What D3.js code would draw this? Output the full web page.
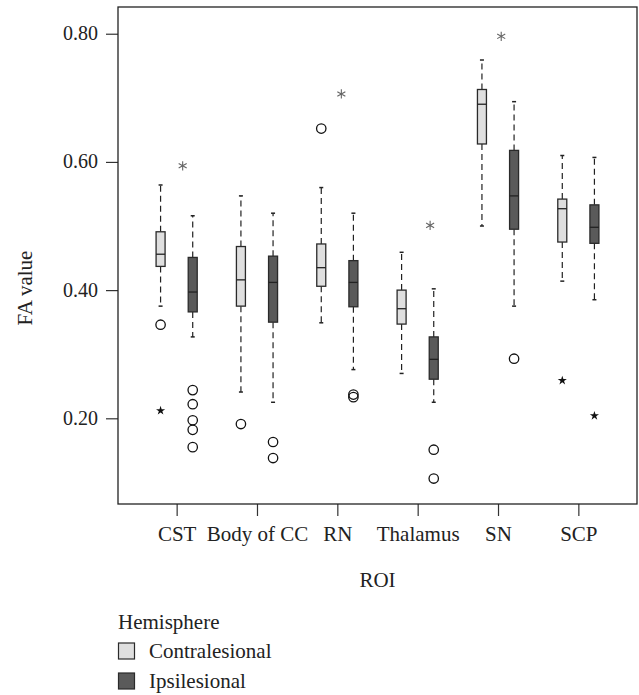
<!DOCTYPE html>
<html>
<head>
<meta charset="utf-8">
<script src="https://cdn.jsdelivr.net/npm/d3@7"></script>
<style>
  body { margin: 0; background: #fff; }
  svg { display: block; font-family: "Liberation Serif", "DejaVu Serif", serif; }
</style>
</head>
<body>
<svg id="chart" width="639" height="695"></svg>
<script>
// ROI categories and hemisphere groups
const rois = ["CST", "Body of CC", "RN", "Thalamus", "SN", "SCP"];
const hemispheres = ["Contralesional", "Ipsilesional"];
const yTicks = [0.2, 0.4, 0.6, 0.8];

// box stats per ROI, contralesional
const contraLow    = [0.375, 0.241, 0.349, 0.270, 0.500, 0.414];
const contraQ1     = [0.437, 0.375, 0.406, 0.347, 0.628, 0.475];
const contraMedian = [0.456, 0.416, 0.435, 0.371, 0.690, 0.527];
const contraQ3     = [0.491, 0.468, 0.472, 0.400, 0.713, 0.542];
const contraHigh   = [0.564, 0.547, 0.560, 0.459, 0.759, 0.610];
const contraOutliers = [[0.346], [0.191], [0.652], [], [], []];
const contraExtremes = [[0.212], [], [], [], [], [0.259]];

// box stats per ROI, ipsilesional
const ipsiLow    = [0.327, 0.225, 0.276, 0.225, 0.375, 0.385];
const ipsiQ1     = [0.366, 0.350, 0.374, 0.261, 0.495, 0.473];
const ipsiMedian = [0.397, 0.412, 0.412, 0.292, 0.547, 0.498];
const ipsiQ3     = [0.451, 0.453, 0.446, 0.327, 0.618, 0.533];
const ipsiHigh   = [0.516, 0.520, 0.520, 0.402, 0.694, 0.607];
const ipsiOutliers = [[0.244, 0.222, 0.197, 0.182, 0.155], [0.163, 0.138], [0.237, 0.233], [0.151, 0.106], [0.293], []];
const ipsiExtremes = [[], [], [], [], [], [0.204]];

// significance asterisks: ROI, height, sideways shift (fraction of band step)
const sigRois   = ["CST", "RN", "Thalamus", "SN"];
const sigValues = [0.594, 0.706, 0.501, 0.796];
const sigShift  = [0.075, 0.05, 0.155, 0.04];

const fills = ["#dfdfdf", "#5a5a5a"];

const svg = d3.select("#chart");
const plot = { left: 118, right: 637, top: 7, bottom: 504 };

const x = d3.scalePoint().domain(rois).range([plot.left, plot.right]).padding(0.73);
const xSub = d3.scaleBand().domain(hemispheres).range([-x.step() * 0.4, x.step() * 0.4]);
const y = d3.scaleLinear().domain([0.0663, 0.8417]).range([plot.bottom, plot.top]);

const series = [
  { name: hemispheres[0], low: contraLow, q1: contraQ1, med: contraMedian, q3: contraQ3, high: contraHigh, out: contraOutliers, ext: contraExtremes },
  { name: hemispheres[1], low: ipsiLow, q1: ipsiQ1, med: ipsiMedian, q3: ipsiQ3, high: ipsiHigh, out: ipsiOutliers, ext: ipsiExtremes }
];

const boxes = [];
series.forEach((s, si) => {
  rois.forEach((r, i) => {
    boxes.push({
      roi: r, hemi: s.name, fill: fills[si],
      low: s.low[i], q1: s.q1[i], med: s.med[i], q3: s.q3[i], high: s.high[i],
      out: s.out[i], ext: s.ext[i]
    });
  });
});

const cx = d => x(d.roi) + xSub(d.hemi) + xSub.bandwidth() / 2;
const boxW = 9, capW = 4;

// y axis
const yAxis = svg.append("g")
  .attr("transform", `translate(${plot.left},0)`)
  .call(d3.axisLeft(y).tickValues(yTicks).tickFormat(d3.format(".2f")).tickSize(12).tickPadding(8));
yAxis.select(".domain").remove();
yAxis.selectAll("line").attr("stroke", "#333").attr("stroke-width", 1.2);
yAxis.selectAll("text").attr("font-size", 20).attr("font-family", "Liberation Serif").attr("fill", "#222").attr("dy", "0.3em");

// x axis
const xAxis = svg.append("g")
  .attr("transform", `translate(0,${plot.bottom})`)
  .call(d3.axisBottom(x).tickSize(12).tickPadding(11));
xAxis.select(".domain").remove();
xAxis.selectAll("line").attr("stroke", "#333").attr("stroke-width", 1.2);
xAxis.selectAll("text").attr("font-size", 21).attr("font-family", "Liberation Serif").attr("fill", "#222").attr("dy", "0.68em");

// frame
svg.append("rect")
  .attr("x", plot.left).attr("y", plot.top)
  .attr("width", plot.right - plot.left).attr("height", plot.bottom - plot.top)
  .attr("fill", "none").attr("stroke", "#222").attr("stroke-width", 1.3);

const g = svg.append("g");

// whiskers
g.selectAll("line.wlo").data(boxes).join("line")
  .attr("x1", cx).attr("x2", cx)
  .attr("y1", d => y(d.q1)).attr("y2", d => y(d.low))
  .attr("stroke", "#222").attr("stroke-width", 1.2).attr("stroke-dasharray", "6,4");
g.selectAll("line.whi").data(boxes).join("line")
  .attr("x1", cx).attr("x2", cx)
  .attr("y1", d => y(d.q3)).attr("y2", d => y(d.high))
  .attr("stroke", "#222").attr("stroke-width", 1.2).attr("stroke-dasharray", "6,4");
["low", "high"].forEach(k => {
  g.selectAll("line.cap-" + k).data(boxes).join("line")
    .attr("x1", d => cx(d) - capW / 2).attr("x2", d => cx(d) + capW / 2)
    .attr("y1", d => y(d[k])).attr("y2", d => y(d[k]))
    .attr("stroke", "#222").attr("stroke-width", 1.5);
});

// boxes
g.selectAll("rect.box").data(boxes).join("rect")
  .attr("x", d => cx(d) - boxW / 2).attr("width", boxW)
  .attr("y", d => y(d.q3)).attr("height", d => y(d.q1) - y(d.q3))
  .attr("fill", d => d.fill).attr("stroke", "#2a2a2a").attr("stroke-width", 1.3);
g.selectAll("line.med").data(boxes).join("line")
  .attr("x1", d => cx(d) - boxW / 2).attr("x2", d => cx(d) + boxW / 2)
  .attr("y1", d => y(d.med)).attr("y2", d => y(d.med))
  .attr("stroke", "#222").attr("stroke-width", 1.3);

// outliers (open circles) and extremes (stars)
const outPts = boxes.flatMap(d => d.out.map(v => ({ x: cx(d), v })));
g.selectAll("circle.out").data(outPts).join("circle")
  .attr("cx", d => d.x).attr("cy", d => y(d.v)).attr("r", 4.7)
  .attr("fill", "none").attr("stroke", "#111").attr("stroke-width", 1.3);

const extPts = boxes.flatMap(d => d.ext.map(v => ({ x: cx(d), v })));
g.selectAll("path.ext").data(extPts).join("path")
  .attr("d", d3.symbol(d3.symbolStar, 26))
  .attr("transform", d => `translate(${d.x},${y(d.v)})`)
  .attr("fill", "#111");

// significance asterisks
g.selectAll("path.sig").data(sigRois).join("path")
  .attr("d", d3.symbol(d3.symbolAsterisk, 60))
  .attr("transform", (r, i) => `translate(${x(r) + sigShift[i] * x.step()},${y(sigValues[i])})`)
  .attr("fill", "none").attr("stroke", "#666").attr("stroke-width", 1.1);

// axis titles
svg.append("text")
  .attr("x", (plot.left + plot.right) / 2).attr("y", 587)
  .attr("text-anchor", "middle").attr("font-size", 21).attr("fill", "#222")
  .text("ROI");
svg.append("text")
  .attr("transform", "translate(32,288) rotate(-90)")
  .attr("text-anchor", "middle").attr("font-size", 21).attr("fill", "#222")
  .text("FA value");

// legend
const legend = svg.append("g").attr("transform", "translate(118,0)");
legend.append("text").attr("x", 0).attr("y", 629).attr("font-size", 21).attr("fill", "#222").text("Hemisphere");
const items = legend.selectAll("g.item").data(hemispheres).join("g")
  .attr("transform", (d, i) => `translate(0,${643 + i * 30})`);
items.append("rect").attr("x", 0.5).attr("y", 0).attr("width", 16).attr("height", 16)
  .attr("fill", (d, i) => fills[i]).attr("stroke", "#2a2a2a").attr("stroke-width", 1.2);
items.append("text").attr("x", 31).attr("y", 15).attr("font-size", 21).attr("fill", "#222").text(d => d);
</script>
</body>
</html>
